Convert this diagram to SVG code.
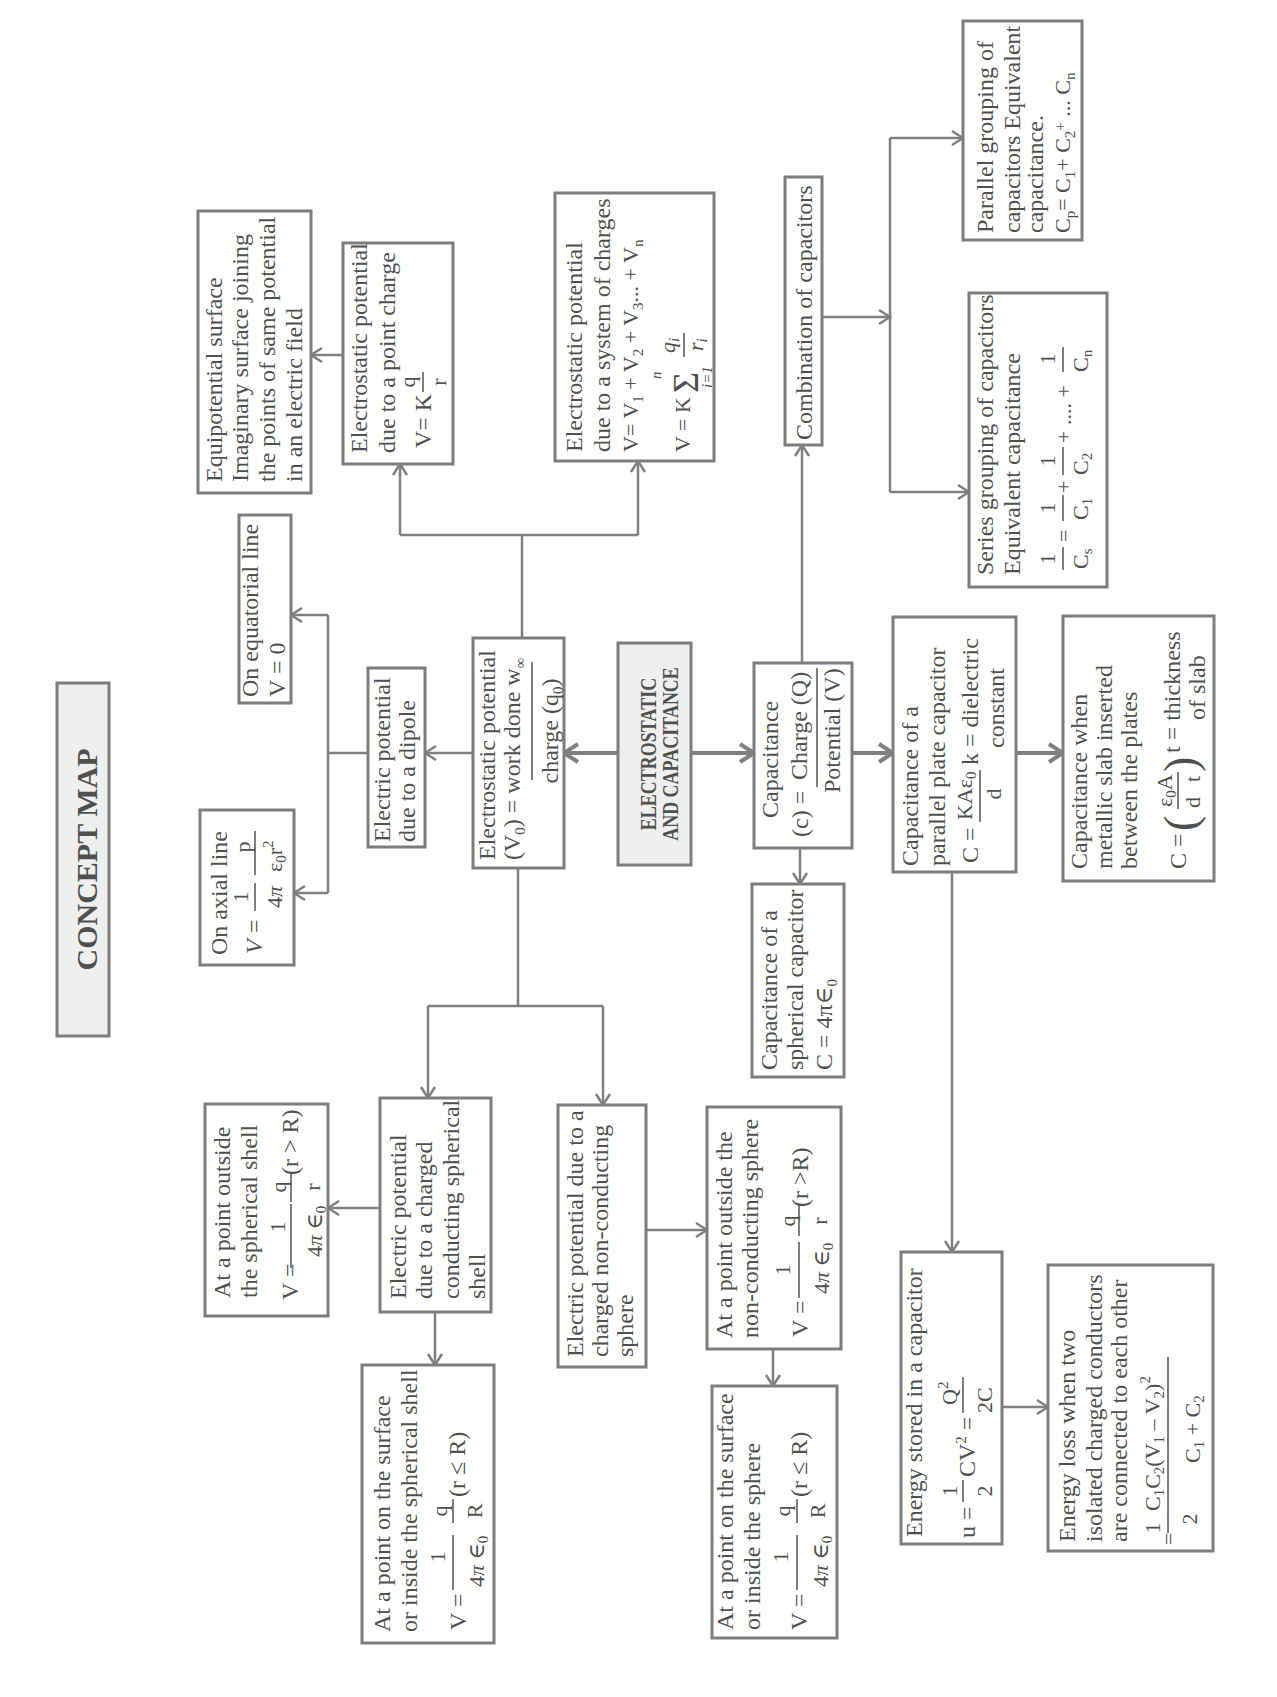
<svg xmlns="http://www.w3.org/2000/svg" width="1277" height="1697" viewBox="0 0 1277 1697">
<style>
.box{fill:#fff;stroke:#7d7d7d;stroke-width:3}
.fl{fill:#efefef}
.t{font-family:"Liberation Serif","Times New Roman","DejaVu Serif",serif;font-size:24px;fill:#505050}
.m{font-size:22px}
.sm{font-size:15px}
.e{font-size:18px;font-weight:bold}
.h{font-size:30px;font-weight:bold}
.big{font-size:36px}
.par{font-size:46px}
.i{font-style:italic}
.c{fill:none;stroke:#808080;stroke-width:2.5}
.k{stroke-width:4}
.bar{stroke:#555;stroke-width:1.5}
</style>
<defs>
<marker id="ah" markerUnits="userSpaceOnUse" markerWidth="16" markerHeight="18" refX="13" refY="9" orient="auto"><path d="M2,2 L13,9 L2,16" fill="none" stroke="#808080" stroke-width="2.5"/></marker>
<marker id="ahb" markerUnits="userSpaceOnUse" markerWidth="20" markerHeight="22" refX="16" refY="11" orient="auto"><path d="M2,2 L16,11 L2,20" fill="none" stroke="#808080" stroke-width="4"/></marker>
</defs>
<rect width="1277" height="1697" fill="#fff"/>
<g transform="translate(0,1697) rotate(-90)">

<g id="connectors">
<path class="c" d="M1342,343 L1342,311" marker-end="url(#ah)"/>
<path class="c" d="M1059,522 L1162,522 M1162,400 L1162,638"/>
<path class="c" d="M1162,400 L1233,400" marker-end="url(#ah)"/>
<path class="c" d="M1162,638 L1236,638" marker-end="url(#ah)"/>
<path class="c" d="M1034,802 L1252,802" marker-end="url(#ah)"/>
<path class="c" d="M1380,822 L1380,890" marker-end="url(#ah)"/>
<path class="c" d="M1205,890 L1559,890"/>
<path class="c" d="M1559,890 L1559,963" marker-end="url(#ah)"/>
<path class="c" d="M1205,890 L1205,969" marker-end="url(#ah)"/>
<path class="c" d="M804,328 L1082,328 M944,368 L944,328"/>
<path class="c" d="M1082,328 L1082,291" marker-end="url(#ah)"/>
<path class="c" d="M804,328 L804,294" marker-end="url(#ah)"/>
<path class="c" d="M944,473 L944,425" marker-end="url(#ah)"/>
<path class="c k" d="M944,618 L944,564" marker-end="url(#ahb)"/>
<path class="c k" d="M944,691 L944,754" marker-end="url(#ahb)"/>
<path class="c k" d="M944,852 L944,893" marker-end="url(#ahb)"/>
<path class="c k" d="M944,1016 L944,1063" marker-end="url(#ahb)"/>
<path class="c" d="M849,800 L813,800" marker-end="url(#ah)"/>
<path class="c" d="M825,952 L445,952" marker-end="url(#ah)"/>
<path class="c" d="M290,1002 L290,1048" marker-end="url(#ah)"/>
<path class="c" d="M829,518 L691,518 M691,428 L691,603"/>
<path class="c" d="M691,428 L599,428" marker-end="url(#ah)"/>
<path class="c" d="M691,603 L592,603" marker-end="url(#ah)"/>
<path class="c" d="M489,380 L489,328" marker-end="url(#ah)"/>
<path class="c" d="M385,435 L332,435" marker-end="url(#ah)"/>
<path class="c" d="M467,646 L467,707" marker-end="url(#ah)"/>
<path class="c" d="M348,773 L311,773" marker-end="url(#ah)"/>
</g>

<g id="concept-map">
<rect class="box fl" x="661" y="57" width="353" height="52"/>
<text class="t h" x="837.5" y="97" text-anchor="middle">CONCEPT MAP</text>
</g>

<g id="equipotential">
<rect class="box" x="1204" y="198" width="282" height="113"/>
<text class="t" x="1215" y="222">Equipotential surface</text>
<text class="t" x="1215" y="248">Imaginary surface joining</text>
<text class="t" x="1215" y="275">the points of same potential</text>
<text class="t" x="1215" y="302">in an electric field</text>
</g>

<g id="point-charge">
<rect class="box" x="1233" y="343" width="221" height="110"/>
<text class="t" x="1244" y="367">Electrostatic potential</text>
<text class="t" x="1244" y="395">due to a point charge</text>
<text class="t" x="1249" y="431">V= K</text>
<text class="t m" x="1315" y="415" text-anchor="middle">q</text>
<line class="bar" x1="1305" y1="423" x2="1325" y2="423"/>
<text class="t m" x="1315" y="446" text-anchor="middle">r</text>
</g>

<g id="system-charges">
<rect class="box" x="1236" y="555" width="268" height="159"/>
<text class="t" x="1245" y="582">Electrostatic potential</text>
<text class="t" x="1245" y="610">due to a system of charges</text>
<text class="t m" x="1245" y="638">V= V<tspan dy="5" class="sm">1</tspan><tspan dy="-5"> + V</tspan><tspan dy="5" class="sm">2</tspan><tspan dy="-5"> + V</tspan><tspan dy="5" class="sm">3</tspan><tspan dy="-5">... + V</tspan><tspan dy="5" class="sm">n</tspan></text>
<text class="t m" x="1245" y="690">V = K</text>
<text class="t big" x="1304" y="698">Σ</text>
<text class="t sm i" x="1318" y="661">n</text>
<text class="t sm i" x="1309" y="712">i=1</text>
<text class="t m i" x="1344" y="675">q<tspan dy="4" class="sm">i</tspan></text>
<line class="bar" x1="1340" y1="684" x2="1364" y2="684"/>
<text class="t m i" x="1346" y="703">r<tspan dy="4" class="sm">i</tspan></text>
</g>

<g id="combination">
<rect class="box" x="1252" y="785" width="268" height="37"/>
<text class="t" x="1257" y="812">Combination of capacitors</text>
</g>

<g id="parallel-grouping">
<rect class="box" x="1457" y="963" width="219" height="119"/>
<text class="t" x="1464" y="993">Parallel grouping of</text>
<text class="t" x="1464" y="1020">capacitors Equivalent</text>
<text class="t" x="1464" y="1043">capacitance.</text>
<text class="t m" x="1464" y="1070">C<tspan dy="5" class="sm">p</tspan><tspan dy="-5">= C</tspan><tspan dy="5" class="sm">1</tspan><tspan dy="-5">+ C</tspan><tspan dy="5" class="sm">2</tspan><tspan dy="-10" class="sm">+</tspan><tspan dy="5"> ... C</tspan><tspan dy="5" class="sm">n</tspan></text>
</g>

<g id="series-grouping">
<rect class="box" x="1110" y="969" width="294" height="138"/>
<text class="t" x="1122" y="993">Series grouping of capacitors</text>
<text class="t" x="1122" y="1020">Equivalent capacitance</text>
<text class="t m" x="1138" y="1055" text-anchor="middle">1</text>
<line class="bar" x1="1127" y1="1063" x2="1150" y2="1063"/>
<text class="t m" x="1128" y="1088">C<tspan dy="4" class="sm">s</tspan></text>
<text class="t m" x="1155" y="1071">=</text>
<text class="t m" x="1189" y="1055" text-anchor="middle">1</text>
<line class="bar" x1="1176" y1="1063" x2="1202" y2="1063"/>
<text class="t m" x="1177" y="1088">C<tspan dy="4" class="sm">1</tspan></text>
<text class="t m" x="1204" y="1071">+</text>
<text class="t m" x="1236" y="1055" text-anchor="middle">1</text>
<line class="bar" x1="1222" y1="1063" x2="1250" y2="1063"/>
<text class="t m" x="1222" y="1088">C<tspan dy="4" class="sm">2</tspan></text>
<text class="t m" x="1254" y="1071">+ .... +</text>
<text class="t m" x="1338" y="1055" text-anchor="middle">1</text>
<line class="bar" x1="1325" y1="1063" x2="1350" y2="1063"/>
<text class="t m" x="1325" y="1088">C<tspan dy="4" class="sm">n</tspan></text>
</g>

<g id="equatorial">
<rect class="box" x="994" y="239" width="188" height="52"/>
<text class="t" x="1000" y="258">On equatorial line</text>
<text class="t" x="1000" y="285">V = 0</text>
</g>

<g id="dipole">
<rect class="box" x="850" y="368" width="179" height="57"/>
<text class="t" x="855" y="390">Electric potential</text>
<text class="t" x="855" y="415">due to a dipole</text>
</g>

<g id="axial">
<rect class="box" x="732" y="200" width="155" height="94"/>
<text class="t" x="742" y="227">On axial line</text>
<text class="t i" x="743" y="262">V</text>
<text class="t" x="764" y="262">=</text>
<text class="t m" x="800" y="248" text-anchor="middle">1</text>
<line class="bar" x1="786" y1="255" x2="814" y2="255"/>
<text class="t m" x="800" y="282" text-anchor="middle">4<tspan class="i">π</tspan></text>
<text class="t m" x="850" y="250" text-anchor="middle">p</text>
<line class="bar" x1="822" y1="255" x2="866" y2="255"/>
<text class="t m" x="825" y="282">ε<tspan dy="4" class="sm">0</tspan><tspan dy="-4">r</tspan><tspan dy="-9" class="sm">2</tspan></text>
</g>

<g id="electrostatic-potential">
<rect class="box" x="829" y="473" width="230" height="91"/>
<text class="t" x="837" y="495">Electrostatic potential</text>
<text class="t" x="837" y="520">(V<tspan dy="5" class="sm">0</tspan><tspan dy="-5">) = work done w</tspan><tspan dy="5" class="sm">∞</tspan></text>
<line class="bar" x1="917" y1="532" x2="1035" y2="532"/>
<text class="t" x="966" y="558" text-anchor="middle">charge (q<tspan dy="5" class="sm">0</tspan><tspan dy="-5">)</tspan></text>
</g>

<g id="electrostatic-capacitance">
<rect class="box fl" x="832" y="618" width="222" height="73"/>
<text class="t e" text-anchor="middle" transform="translate(943,656) scale(1,1.3)">ELECTROSTATIC</text>
<text class="t e" text-anchor="middle" transform="translate(943,678) scale(1,1.3)">AND CAPACITANCE</text>
</g>

<g id="capacitance">
<rect class="box" x="849" y="754" width="185" height="98"/>
<text class="t" x="879" y="778">Capacitance</text>
<text class="t" x="860" y="808">(c) =</text>
<text class="t" x="917" y="807">Charge (Q)</text>
<line class="bar" x1="910" y1="817" x2="1029" y2="817"/>
<text class="t" x="904" y="840">Potential (V)</text>
</g>

<g id="spherical-capacitor">
<rect class="box" x="620" y="752" width="193" height="92"/>
<text class="t" x="627" y="777">Capacitance of a</text>
<text class="t" x="627" y="803">spherical capacitor</text>
<text class="t" x="627" y="832">C = 4π∈<tspan dy="5" class="sm">0</tspan></text>
</g>

<g id="parallel-plate">
<rect class="box" x="825" y="893" width="255" height="123"/>
<text class="t" x="831" y="918">Capacitance of a</text>
<text class="t" x="831" y="945">parallel plate capacitor</text>
<text class="t" x="834" y="978">C =</text>
<text class="t m" x="877" y="972">KAε<tspan dy="4" class="sm">0</tspan></text>
<line class="bar" x1="875" y1="980" x2="927" y2="980"/>
<text class="t m" x="903" y="1001" text-anchor="middle">d</text>
<text class="t" x="932" y="978">k = dielectric</text>
<text class="t" x="949" y="1004">constant</text>
</g>

<g id="metallic-slab">
<rect class="box" x="816" y="1063" width="265" height="151"/>
<text class="t" x="828" y="1087">Capacitance when</text>
<text class="t" x="828" y="1112">metallic slab inserted</text>
<text class="t" x="828" y="1137">between the plates</text>
<text class="t" x="828" y="1186">C =</text>
<text class="t par" x="866" y="1196">(</text>
<text class="t m" x="890" y="1172">ε<tspan dy="4" class="sm">0</tspan><tspan dy="-4">A</tspan></text>
<line class="bar" x1="888" y1="1178" x2="925" y2="1178"/>
<text class="t m" x="889" y="1200">d</text>
<text class="t m" x="915" y="1200">t</text>
<text class="t par" x="925" y="1196">)</text>
<text class="t" x="944" y="1180">t = thickness</text>
<text class="t" x="977" y="1205">of slab</text>
</g>

<g id="energy-stored">
<rect class="box" x="153" y="901" width="292" height="101"/>
<text class="t" x="160" y="922">Energy stored in a capacitor</text>
<text class="t" x="159" y="975">u =</text>
<text class="t m" x="206" y="957" text-anchor="middle">1</text>
<line class="bar" x1="195" y1="963" x2="217" y2="963"/>
<text class="t m" x="206" y="992" text-anchor="middle">2</text>
<text class="t" x="220" y="975">CV<tspan dy="-9" class="sm">2</tspan><tspan dy="9"> =</tspan></text>
<text class="t m" x="292" y="957">Q<tspan dy="-9" class="sm">2</tspan></text>
<line class="bar" x1="284" y1="963" x2="320" y2="963"/>
<text class="t m" x="284" y="992">2C</text>
</g>

<g id="energy-loss">
<rect class="box" x="146" y="1048" width="286" height="165"/>
<text class="t" x="155" y="1075">Energy loss when two</text>
<text class="t" x="155" y="1102">isolated charged conductors</text>
<text class="t" x="155" y="1127">are connected to each other</text>
<text class="t m" x="152" y="1176">=</text>
<text class="t m" x="169" y="1160" text-anchor="middle">1</text>
<text class="t m" x="178" y="1197" text-anchor="middle">2</text>
<line class="bar" x1="164" y1="1168" x2="340" y2="1168"/>
<text class="t m" x="186" y="1160">C<tspan dy="4" class="sm">1</tspan><tspan dy="-4">C</tspan><tspan dy="4" class="sm">2</tspan><tspan dy="-4">(V</tspan><tspan dy="4" class="sm">1</tspan><tspan dy="-4"> – V</tspan><tspan dy="4" class="sm">2</tspan><tspan dy="-4">)</tspan><tspan dy="-10" class="sm">2</tspan></text>
<text class="t m" x="234" y="1200">C<tspan dy="4" class="sm">1</tspan><tspan dy="-4"> + C</tspan><tspan dy="4" class="sm">2</tspan></text>
</g>

<g id="outside-shell">
<rect class="box" x="381" y="205" width="212" height="123"/>
<text class="t" x="399" y="230">At a point outside</text>
<text class="t" x="399" y="257">the spherical shell</text>
<text class="t" x="397" y="298">V =</text>
<text class="t m" x="470" y="285" text-anchor="middle">1</text>
<line class="bar" x1="429" y1="291" x2="493" y2="291"/>
<text class="t m" x="440" y="322">4<tspan class="i">π</tspan> ∈<tspan dy="4" class="sm">0</tspan></text>
<text class="t m" x="510" y="286" text-anchor="middle">q</text>
<line class="bar" x1="495" y1="291" x2="524" y2="291"/>
<text class="t m" x="510" y="320" text-anchor="middle">r</text>
<text class="t" x="522" y="298">(r &gt; R)</text>
</g>

<g id="conducting-shell">
<rect class="box" x="385" y="380" width="214" height="111"/>
<text class="t" x="398" y="406">Electric potential</text>
<text class="t" x="398" y="432">due to a charged</text>
<text class="t" x="398" y="459">conducting spherical</text>
<text class="t" x="398" y="485">shell</text>
</g>

<g id="non-conducting">
<rect class="box" x="330" y="558" width="262" height="88"/>
<text class="t" x="340" y="583">Electric potential due to a</text>
<text class="t" x="340" y="608">charged non-conducting</text>
<text class="t" x="340" y="633">sphere</text>
</g>

<g id="outside-sphere">
<rect class="box" x="348" y="707" width="242" height="134"/>
<text class="t" x="359" y="732">At a point outside the</text>
<text class="t" x="359" y="758">non-conducting sphere</text>
<text class="t" x="360" y="808">V =</text>
<text class="t m" x="427" y="790" text-anchor="middle">1</text>
<line class="bar" x1="399" y1="799" x2="455" y2="799"/>
<text class="t m" x="403" y="829">4<tspan class="i">π</tspan> ∈<tspan dy="4" class="sm">0</tspan></text>
<text class="t m" x="476" y="795" text-anchor="middle">q</text>
<line class="bar" x1="461" y1="799" x2="492" y2="799"/>
<text class="t m" x="476" y="827" text-anchor="middle">r</text>
<text class="t" x="490" y="808">(r &gt;R)</text>
</g>

<g id="inside-sphere">
<rect class="box" x="59" y="712" width="252" height="125"/>
<text class="t" x="67" y="733">At a point on the surface</text>
<text class="t" x="67" y="760">or inside the sphere</text>
<text class="t" x="67" y="807">V =</text>
<text class="t m" x="140" y="788" text-anchor="middle">1</text>
<line class="bar" x1="107" y1="797" x2="162" y2="797"/>
<text class="t m" x="110" y="828">4<tspan class="i">π</tspan> ∈<tspan dy="4" class="sm">0</tspan></text>
<text class="t m" x="186" y="790" text-anchor="middle">q</text>
<line class="bar" x1="174" y1="797" x2="198" y2="797"/>
<text class="t m" x="186" y="825" text-anchor="middle">R</text>
<text class="t" x="200" y="807">(r ≤ R)</text>
</g>

<g id="inside-shell">
<rect class="box" x="54" y="362" width="278" height="132"/>
<text class="t" x="65" y="390">At a point on the surface</text>
<text class="t" x="65" y="417">or inside the spherical shell</text>
<text class="t" x="67" y="466">V =</text>
<text class="t m" x="140" y="445" text-anchor="middle">1</text>
<line class="bar" x1="107" y1="453" x2="162" y2="453"/>
<text class="t m" x="110" y="484">4<tspan class="i">π</tspan> ∈<tspan dy="4" class="sm">0</tspan></text>
<text class="t m" x="186" y="447" text-anchor="middle">q</text>
<line class="bar" x1="174" y1="453" x2="198" y2="453"/>
<text class="t m" x="186" y="482" text-anchor="middle">R</text>
<text class="t" x="200" y="465">(r ≤ R)</text>
</g>

</g>
</svg>
